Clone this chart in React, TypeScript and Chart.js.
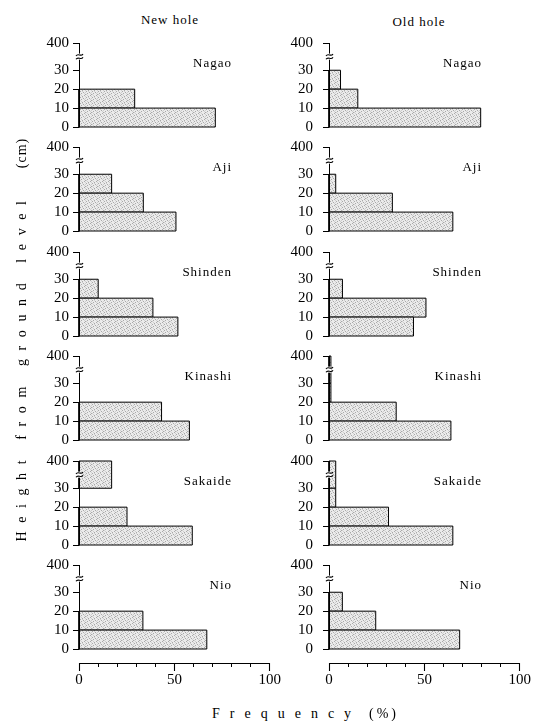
import React, { useEffect, useRef } from 'react';
import { Chart, registerables } from 'chart.js';

Chart.register(...registerables);

// ---------------- data ----------------
const SITES = ['Nagao', 'Aji', 'Shinden', 'Kinashi', 'Sakaide', 'Nio'];
const HOLE_TITLES = ['New hole', 'Old hole'];
// height bins (cm): 0-10, 10-20, 20-30, 30-400
const BIN_LOW = [0, 10, 20, 30];
const BIN_HIGH = [10, 20, 30, 400];
const Y_TICKS = [0, 10, 20, 30, 400];
const X_TICKS = [0, 50, 100];

// frequency (%) per bin [0-10, 10-20, 20-30, 30-400]
const NEW_NAGAO = [71, 29, 0, 0];
const NEW_AJI = [50.5, 33.5, 17, 0];
const NEW_SHINDEN = [51.5, 38.5, 10, 0];
const NEW_KINASHI = [57.5, 43, 0, 0];
const NEW_SAKAIDE = [59, 25, 0, 17];
const NEW_NIO = [67, 33.5, 0, 0];

const OLD_NAGAO = [79, 15, 6, 0];
const OLD_AJI = [64.5, 33, 3.5, 0];
const OLD_SHINDEN = [44, 50.5, 7, 0];
const OLD_KINASHI = [63.5, 35, 1, 1];
const OLD_SAKAIDE = [64.5, 31, 3.5, 3.5];
const OLD_NIO = [68.5, 24.5, 7, 0];

const NEW_HOLE = [NEW_NAGAO, NEW_AJI, NEW_SHINDEN, NEW_KINASHI, NEW_SAKAIDE, NEW_NIO];
const OLD_HOLE = [OLD_NAGAO, OLD_AJI, OLD_SHINDEN, OLD_KINASHI, OLD_SAKAIDE, OLD_NIO];
const COLUMNS = [NEW_HOLE, OLD_HOLE];

// ---------------- layout / style ----------------
const BREAK_POS = 44.4; // scale position where the 400 cm tick sits (axis broken above 30)
const SERIF = '"Liberation Serif", "Times New Roman", serif';
const COL_AXIS_X = [79, 329];
const PLOT_W = 192;
const AXIS_W = 59;
const PAD_R = 14;
const PAD_T = 24;
const PAD_B = 24;
const PLOT_H = 84;
const BOTTOM_EXTRA = 14;
const X_AXIS_H = 28;
const ROW_TOP0 = 42.5;
const ROW_STEP = 104.5;
const TICK_PAD = [4, 10];

function axisPos(cm: number) {
  return cm > 30 ? BREAK_POS : cm;
}

let patternCache: CanvasPattern | null = null;
function barFill(ctx: CanvasRenderingContext2D) {
  if (patternCache) return patternCache;
  const c = document.createElement('canvas');
  c.width = 6;
  c.height = 6;
  const g = c.getContext('2d')!;
  g.fillStyle = '#ebebeb';
  g.fillRect(0, 0, 6, 6);
  g.fillStyle = '#a9a9a9';
  const dark = [[0, 0], [3, 1], [1, 2], [4, 4], [2, 5], [5, 3]];
  dark.forEach(([px, py]) => g.fillRect(px, py, 1, 1));
  g.fillStyle = '#cfcfcf';
  const mid = [[2, 0], [5, 1], [4, 2], [0, 3], [1, 4], [5, 5]];
  mid.forEach(([px, py]) => g.fillRect(px, py, 1, 1));
  patternCache = ctx.createPattern(c, 'repeat');
  return patternCache;
}

const brokenAxisPlugin = {
  id: 'brokenAxis',
  afterDraw(chart: any) {
    const { ctx, scales } = chart;
    const x = scales.x;
    const y = scales.y;
    const ax = Math.round(x.getPixelForValue(0) - 0.5) + 0.5;
    const y0 = Math.round(y.getPixelForValue(0));
    const y1 = Math.round(y.getPixelForValue(BREAK_POS));
    ctx.save();
    ctx.strokeStyle = '#000';
    ctx.lineWidth = 1;
    ctx.beginPath();
    ctx.moveTo(ax, y0 + 0.5);
    ctx.lineTo(ax, y1);
    ctx.stroke();
    // break mark (≈)
    const yb = y.getPixelForValue((30 + BREAK_POS) / 2);
    ctx.fillStyle = '#fff';
    ctx.fillRect(ax - 2, yb - 3, 4, 6);
    ctx.lineWidth = 1.1;
    for (const k of [-1.7, 1.7]) {
      ctx.beginPath();
      ctx.moveTo(ax - 3.5, yb + k + 1);
      ctx.bezierCurveTo(ax - 1.5, yb + k - 2.5, ax + 1.5, yb + k + 2.5, ax + 3.5, yb + k - 1);
      ctx.stroke();
    }
    // longer major ticks on the frequency axis
    if (x.options.display) {
      const by = Math.round(chart.chartArea.bottom);
      for (const v of X_TICKS) {
        const px = Math.round(x.getPixelForValue(v) - 0.5) + 0.5;
        ctx.beginPath();
        ctx.moveTo(px, by);
        ctx.lineTo(px, by + 8);
        ctx.stroke();
      }
    }
    ctx.restore();
  },
};

function Panel({ values, col, row, last }: { values: number[]; col: number; row: number; last: boolean }) {
  const ref = useRef<HTMLCanvasElement>(null);
  const width = AXIS_W + PLOT_W + PAD_R;
  const areaH = PLOT_H + (last ? BOTTOM_EXTRA : 0);
  const height = PAD_T + areaH + (last ? X_AXIS_H : PAD_B);
  const left = COL_AXIS_X[col] - AXIS_W;
  const top = Math.round(ROW_TOP0 + row * ROW_STEP) - PAD_T;

  useEffect(() => {
    const canvas = ref.current!;
    const ctx = canvas.getContext('2d')!;
    const fillPattern = barFill(ctx);
    const datasets: any[] = [];
    values.forEach((v, i) => {
      if (!(v > 0)) return;
      const lo = axisPos(BIN_LOW[i]);
      const hi = axisPos(BIN_HIGH[i]);
      datasets.push({
        data: [
          { x: 0, y: lo },
          { x: v, y: lo },
          { x: v, y: hi },
          { x: 0, y: hi },
          { x: 0, y: lo },
        ],
        showLine: true,
        fill: 'shape',
        backgroundColor: fillPattern,
        borderColor: '#000',
        borderWidth: 1,
        pointRadius: 0,
        pointHoverRadius: 0,
        tension: 0,
        clip: false,
      });
    });
    const yMin = last ? (-BOTTOM_EXTRA * BREAK_POS) / PLOT_H : 0;
    const chart = new Chart(canvas, {
      type: 'scatter',
      data: { datasets },
      options: {
        animation: false,
        responsive: false,
        devicePixelRatio: 1,
        events: [],
        layout: { padding: { left: 0, right: PAD_R, top: PAD_T, bottom: last ? 0 : PAD_B } },
        plugins: { legend: { display: false }, tooltip: { enabled: false }, title: { display: false } },
        scales: {
          x: {
            type: 'linear',
            min: 0,
            max: 100,
            display: last,
            afterFit: (s: any) => {
              s.height = last ? X_AXIS_H : 0;
            },
            border: { display: true, color: '#000', width: 1 },
            grid: { drawOnChartArea: false, drawTicks: true, tickLength: 4, color: '#000', lineWidth: 1 },
            ticks: {
              stepSize: 10,
              autoSkip: false,
              maxRotation: 0,
              padding: 4,
              color: '#000',
              font: { family: SERIF, size: 15 },
              callback: (v: any) => (X_TICKS.includes(Number(v)) ? String(v) : ''),
            },
          },
          y: {
            type: 'linear',
            min: yMin,
            max: BREAK_POS,
            afterBuildTicks: (s: any) => {
              s.ticks = Y_TICKS.map((v) => ({ value: axisPos(v) }));
            },
            afterFit: (s: any) => {
              s.width = AXIS_W;
            },
            border: { display: false },
            grid: { drawOnChartArea: false, drawTicks: true, tickLength: 6, color: '#000', lineWidth: 1 },
            ticks: {
              autoSkip: false,
              padding: TICK_PAD[col],
              color: '#000',
              font: { family: SERIF, size: 15 },
              callback: (_v: any, i: number) => String(Y_TICKS[i]),
            },
          },
        },
      } as any,
      plugins: [brokenAxisPlugin],
    });
    return () => chart.destroy();
  }, []);

  return (
    <canvas
      ref={ref}
      width={width}
      height={height}
      style={{ position: 'absolute', left, top, width, height }}
    />
  );
}

const textBase: React.CSSProperties = {
  position: 'absolute',
  fontFamily: SERIF,
  color: '#000',
  whiteSpace: 'nowrap',
  lineHeight: '16px',
};

export default function App() {
  const panels: any[] = [];
  const labels: any[] = [];
  COLUMNS.forEach((col, c) => {
    col.forEach((vals, r) => {
      panels.push(<Panel key={`p${c}-${r}`} values={vals} col={c} row={r} last={r === SITES.length - 1} />);
      const rowTop = Math.round(ROW_TOP0 + r * ROW_STEP);
      labels.push(
        <div
          key={`l${c}-${r}`}
          style={{
            ...textBase,
            fontSize: 13,
            letterSpacing: '1px',
            left: COL_AXIS_X[c] + 153 - 100,
            width: 100,
            textAlign: 'right',
            top: rowTop + 20 - 8,
          }}
        >
          {SITES[r]}
        </div>
      );
    });
  });

  return (
    <div
      style={{
        position: 'absolute',
        left: 0,
        top: 0,
        width: 533,
        height: 721,
        background: '#fff',
        overflow: 'hidden',
      }}
    >
      <div style={{ ...textBase, fontSize: 13, letterSpacing: '1px', left: 120, width: 100, textAlign: 'center', top: 12 }}>
        {HOLE_TITLES[0]}
      </div>
      <div style={{ ...textBase, fontSize: 13, letterSpacing: '1px', left: 369, width: 100, textAlign: 'center', top: 14 }}>
        {HOLE_TITLES[1]}
      </div>
      {panels}
      {labels}
      <div
        style={{
          ...textBase,
          fontSize: 14,
          letterSpacing: '8.6px',
          left: 22 - 180,
          width: 360,
          textAlign: 'center',
          top: 367 - 8,
          transform: 'rotate(-90deg)',
        }}
      >
        Height from ground level
      </div>
      <div
        style={{
          ...textBase,
          fontSize: 14,
          letterSpacing: '1px',
          left: 22 - 20,
          width: 40,
          textAlign: 'center',
          top: 153 - 8,
          transform: 'rotate(-90deg)',
        }}
      >
        (cm)
      </div>
      <div style={{ ...textBase, fontSize: 14, letterSpacing: '10px', left: 212, top: 706 }}>Frequency</div>
      <div style={{ ...textBase, fontSize: 14, letterSpacing: '3px', left: 369, top: 706 }}>(%)</div>
    </div>
  );
}
